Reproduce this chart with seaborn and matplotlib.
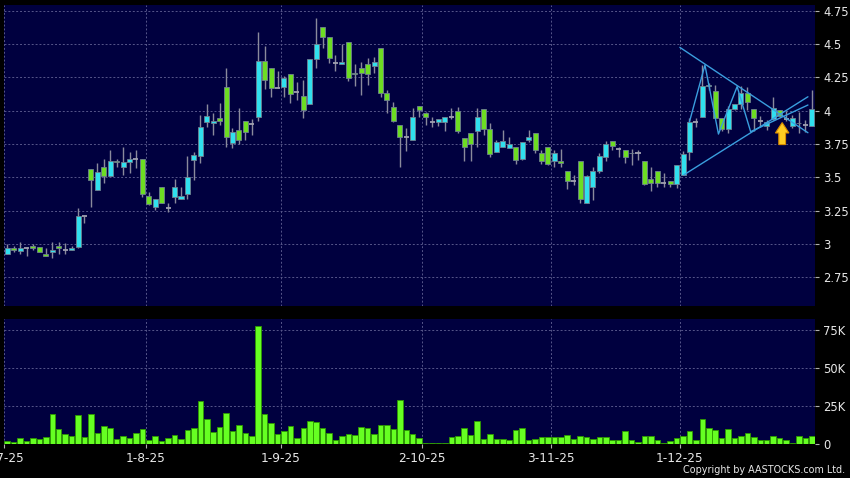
import numpy as np
import pandas as pd
import matplotlib
matplotlib.use("Agg")
import matplotlib.pyplot as plt
import seaborn as sns
from matplotlib.patches import FancyArrow

# ---------------- data ----------------
holidays = ["2025-10-01", "2025-10-07", "2025-10-29", "2025-12-25", "2025-12-26"]
dates = pd.bdate_range("2025-07-02", "2025-12-31", freq="C", holidays=holidays)

open_ = [2.925, 2.968, 2.943, 2.968, 2.985, 2.975, 2.923, 2.938, 2.985, 2.955,
         2.955, 2.975, 3.21, 3.56, 3.405, 3.58, 3.51, 3.625, 3.575, 3.613,
         3.638, 3.638, 3.36, 3.28, 3.43, 3.27, 3.355, 3.34, 3.373, 3.627,
         3.66, 3.918, 3.905, 3.943, 4.175, 3.76, 3.855, 3.925, 3.9, 3.955,
         4.375, 4.318, 4.172, 4.175, 4.273, 4.138, 4.113, 4.048, 4.385, 4.63,
         4.555, 4.36, 4.35, 4.518, 4.285, 4.318, 4.348, 4.335, 4.468, 4.13,
         4.03, 3.893, 3.80, 3.78, 4.035, 3.98, 3.913, 3.913, 3.913, 3.955,
         4.0, 3.793, 3.83, 3.85, 4.01, 3.86, 3.688, 3.73, 3.718, 3.73,
         3.635, 3.78, 3.83, 3.685, 3.73, 3.618, 3.625, 3.543, 3.473, 3.618,
         3.305, 3.425, 3.543, 3.65, 3.775, 3.715, 3.705, 3.685, 3.685, 3.625,
         3.485, 3.543, 3.455, 3.475, 3.448, 3.513, 3.688, 3.918, 3.95, 4.185,
         4.15, 3.943, 3.86, 4.01, 4.048, 4.13, 4.01, 3.925, 3.885, 3.935,
         4.005, 3.94, 3.885, 3.91, 3.89, 3.885]
high = [3.00, 2.98, 3.01, 2.975, 3.00, 2.975, 2.97, 3.01, 3.01, 3.005,
        2.98, 3.27, 3.21, 3.56, 3.605, 3.64, 3.705, 3.64, 3.73, 3.69,
        3.705, 3.64, 3.39, 3.34, 3.43, 3.31, 3.49, 3.43, 3.66, 3.69,
        3.968, 4.048, 3.98, 4.055, 4.318, 3.868, 4.018, 3.925, 3.938, 4.593,
        4.485, 4.318, 4.298, 4.26, 4.273, 4.213, 4.23, 4.385, 4.693, 4.63,
        4.555, 4.418, 4.50, 4.518, 4.35, 4.368, 4.393, 4.405, 4.468, 4.155,
        4.068, 3.893, 3.868, 4.018, 4.035, 3.993, 3.95, 3.94, 3.955, 4.018,
        4.03, 3.793, 3.83, 4.018, 4.01, 3.91, 3.78, 3.855, 3.805, 3.73,
        3.768, 3.855, 3.83, 3.705, 3.73, 3.705, 3.71, 3.543, 3.518, 3.618,
        3.518, 3.58, 3.685, 3.775, 3.775, 3.73, 3.705, 3.71, 3.705, 3.625,
        3.58, 3.543, 3.535, 3.475, 3.593, 3.70, 3.943, 3.943, 4.343, 4.205,
        4.193, 3.943, 4.035, 4.048, 4.185, 4.175, 4.01, 3.96, 3.93, 4.105,
        4.005, 4.0, 3.968, 3.99, 3.93, 4.155]
low = [2.92, 2.94, 2.92, 2.91, 2.95, 2.938, 2.905, 2.89, 2.92, 2.92,
       2.95, 2.97, 3.155, 3.28, 3.405, 3.455, 3.51, 3.58, 3.52, 3.535,
       3.567, 3.355, 3.29, 3.255, 3.305, 3.24, 3.31, 3.335, 3.335, 3.48,
       3.605, 3.88, 3.817, 3.893, 3.73, 3.718, 3.75, 3.78, 3.818, 3.925,
       4.16, 4.105, 4.168, 4.105, 4.055, 4.08, 3.943, 4.048, 4.318, 4.468,
       4.355, 4.30, 4.35, 4.225, 4.185, 4.118, 4.193, 4.28, 4.105, 3.98,
       3.918, 3.573, 3.70, 3.78, 3.95, 3.893, 3.88, 3.888, 3.85, 3.938,
       3.83, 3.625, 3.625, 3.73, 3.818, 3.65, 3.688, 3.73, 3.718, 3.598,
       3.63, 3.768, 3.68, 3.60, 3.588, 3.575, 3.575, 3.413, 3.443, 3.305,
       3.305, 3.33, 3.535, 3.618, 3.705, 3.65, 3.605, 3.588, 3.63, 3.443,
       3.393, 3.425, 3.43, 3.43, 3.418, 3.513, 3.63, 3.88, 3.95, 4.155,
       3.943, 3.85, 3.83, 4.005, 4.01, 4.005, 3.85, 3.88, 3.855, 3.93,
       3.95, 3.92, 3.868, 3.83, 3.84, 3.885]
close = [2.968, 2.955, 2.968, 2.968, 2.968, 2.938, 2.908, 2.955, 2.968, 2.955,
         2.97, 3.205, 3.21, 3.48, 3.54, 3.51, 3.625, 3.613, 3.613, 3.635,
         3.638, 3.373, 3.30, 3.34, 3.31, 3.27, 3.43, 3.36, 3.505, 3.668,
         3.88, 3.963, 3.925, 3.925, 3.805, 3.843, 3.78, 3.838, 3.9, 4.375,
         4.23, 4.168, 4.172, 4.243, 4.123, 4.138, 4.005, 4.385, 4.498, 4.555,
         4.393, 4.36, 4.365, 4.243, 4.275, 4.28, 4.275, 4.365, 4.135, 4.08,
         3.925, 3.80, 3.80, 3.95, 4.005, 3.95, 3.913, 3.94, 3.955, 3.955,
         3.85, 3.73, 3.748, 3.955, 3.86, 3.675, 3.768, 3.775, 3.748, 3.63,
         3.768, 3.80, 3.705, 3.625, 3.60, 3.685, 3.605, 3.468, 3.473, 3.335,
         3.51, 3.543, 3.66, 3.75, 3.735, 3.715, 3.65, 3.68, 3.685, 3.448,
         3.455, 3.455, 3.455, 3.45, 3.593, 3.675, 3.918, 3.918, 4.185, 4.193,
         3.943, 3.86, 4.01, 4.048, 4.13, 4.068, 3.943, 3.925, 3.918, 4.018,
         3.96, 3.94, 3.943, 3.905, 3.89, 4.01]
volume_k = [2.2, 1.5, 3.9, 2.0, 3.7, 3.5, 4.8, 20, 10, 6.6,
            5, 18.9, 4.4, 19.5, 7, 12, 10.3, 3.3, 5.3, 4.2,
            7.2, 9.9, 2.9, 5.3, 2.2, 3.9, 5.9, 3.5, 9.4, 10.7,
            28.5, 16.2, 8.1, 11.4, 20.4, 8.8, 12.7, 7.5, 5.5, 77.6,
            19.7, 13.6, 6.6, 8.3, 11.8, 4.2, 10.5, 15.4, 14.3, 10.5,
            7.2, 2.9, 5.3, 6.6, 6.1, 11.2, 10.7, 6.6, 12.7, 12.5,
            10.1, 29, 9.2, 6.8, 4.2,
            0.7, 0.9, 0.7, 0.7, 4.8, 5, 10.7, 6.1, 15.1, 3.5,
            6.8, 3.5, 3.5, 2.6, 9.4, 10.5, 2.4, 3.5, 4.8, 4.4,
            4.4, 4.4, 5.9, 3.5, 5, 4.4, 3.5, 4.8, 4.8, 2.4,
            2.4, 8.6, 2.9, 1.5, 5.5, 5.5, 2.6, 0.7, 1.8, 3.7,
            5.3, 8.8, 2.6, 16.2, 10.5, 9.4, 3.7, 9.9, 3.7, 5.3,
            7.2, 4.4, 2.4, 2.6, 5.3, 3.9, 2.9, 0.7, 5, 3.7, 5.3]

price_ticks = [2.75, 3.0, 3.25, 3.5, 3.75, 4.0, 4.25, 4.5, 4.75]
price_labels = ["2.75", "3", "3.25", "3.5", "3.75", "4", "4.25", "4.5", "4.75"]
vol_ticks = [0, 25000, 50000, 75000]
vol_labels = ["0", "25K", "50K", "75K"]

# drawn trend lines (candle index, price)
line_a_x, line_a_y = [104.5, 124.4], [4.475, 3.834]
line_b_x, line_b_y = [105.1, 124.4], [3.517, 4.104]
line_c_x, line_c_y = [115.5, 124.4], [3.842, 4.042]
zig_x = [106.0, 108.4, 110.5, 113.4, 115.5]
zig_y = [3.917, 4.342, 3.824, 4.18, 3.842]
arrow_idx, arrow_low, arrow_high = 120.4, 3.745, 3.91

# ---------------- style ----------------
sns.set_theme(style="dark")
plt.rcParams["font.family"] = ["DejaVu Sans"]

BG = "#00003f"
GRID = "#56568a"
CYAN = "#30e0ee"
GREEN = "#6ddd22"
DOJI = "#a0a0b0"
WICK = "#8a8a9c"
TXT = "#e8e8e8"

n = len(close)
idx = np.arange(n)
o = np.array(open_); c = np.array(close); h = np.array(high); l = np.array(low)

fig = plt.figure(figsize=(8.5, 4.78), dpi=100, facecolor="black")
ax = fig.add_axes([4 / 850, 1 - 306 / 478, 811 / 850, 301 / 478])
axv = fig.add_axes([4 / 850, 1 - 444 / 478, 811 / 850, 125 / 478])

for a in (ax, axv):
    a.set_facecolor(BG)
    for s in a.spines.values():
        s.set_visible(False)
    a.set_xlim(-0.5, n - 0.5)

# month boundaries from dates
month_first = [i for i in range(n) if i == 0 or dates[i].month != dates[i - 1].month]
month_labels = [f"{dates[i].day}-{dates[i].month}-{dates[i].year % 100}" for i in month_first]
month_pos = [i - 0.5 for i in month_first]

for a in (ax, axv):
    for p in month_pos:
        a.axvline(p, color=GRID, lw=0.7, ls=(0, (2, 2)), zorder=0.5)

# ---- price panel ----
ax.set_ylim(2.533, 4.793)
for t in price_ticks:
    ax.axhline(t, color=GRID, lw=0.7, ls=(0, (2, 2)), zorder=0.5)

ax.vlines(idx, l, h, color=WICK, lw=1.0, zorder=2)
up = c > o
down = c < o
doji = ~(up | down)
bottoms = np.minimum(o, c)
heights = np.abs(c - o)
cols = np.where(up, CYAN, np.where(down, GREEN, DOJI))
ax.bar(idx[~doji], heights[~doji], bottom=bottoms[~doji], width=0.78,
       color=cols[~doji], edgecolor="#6f8090", linewidth=0.6, zorder=3)
ax.hlines(c[doji], idx[doji] - 0.39, idx[doji] + 0.39, color=DOJI, lw=1.3, zorder=3)

LINE = "#3a9ede"
ax.plot(line_a_x, line_a_y, color=LINE, lw=1.0, zorder=4)
ax.plot(line_b_x, line_b_y, color=LINE, lw=1.0, zorder=4)
ax.plot(line_c_x, line_c_y, color=LINE, lw=1.0, zorder=4)
ax.plot(zig_x, zig_y, color=LINE, lw=1.0, zorder=4)
ax.add_patch(FancyArrow(arrow_idx, arrow_low, 0, arrow_high - arrow_low, width=1.05,
                        head_width=2.1, head_length=0.078, length_includes_head=True,
                        fc="#ffcc22", ec="#d88a00", lw=0.8, zorder=6))

ax.yaxis.tick_right()
ax.set_yticks(price_ticks)
ax.set_yticklabels(price_labels)
ax.set_xticks([])
ax.tick_params(axis="y", right=True, length=3, width=0.8, color="#b0b0b0",
               labelcolor=TXT, labelsize=8.3, pad=3)
ax.grid(False)

# ---- volume panel ----
vdf = pd.DataFrame({"idx": idx, "volume": np.array(volume_k) * 1000})
axv.set_ylim(0, 82000)
for t in vol_ticks[1:]:
    axv.axhline(t, color=GRID, lw=0.7, ls=(0, (2, 2)), zorder=0.5)
sns.barplot(data=vdf, x="idx", y="volume", ax=axv, native_scale=True,
            color="#66ff22", saturation=1, width=0.86, errorbar=None,
            edgecolor="#2e9a00", linewidth=0.6, zorder=3)
axv.set_xlim(-0.5, n - 0.5)
axv.set_ylim(0, 82000)
axv.yaxis.tick_right()
axv.set_yticks(vol_ticks)
axv.set_yticklabels(vol_labels)
axv.set_xticks(month_pos)
axv.set_xticklabels(month_labels)
axv.set_xlabel(""); axv.set_ylabel("")
axv.tick_params(axis="y", right=True, left=False, length=3, width=0.8, color="#b0b0b0",
                labelcolor=TXT, labelsize=8.3, pad=3)
axv.tick_params(axis="x", bottom=True, length=3, width=0.8, color="#b0b0b0",
                labelcolor=TXT, labelsize=8.7, pad=3)
axv.grid(False)

fig.text(845 / 850, 1 - 470 / 478, "Copyright by AASTOCKS.com Ltd.", ha="right",
         va="center", color=TXT, fontsize=6.9)

fig.savefig("out.png", dpi=100, facecolor="black")
